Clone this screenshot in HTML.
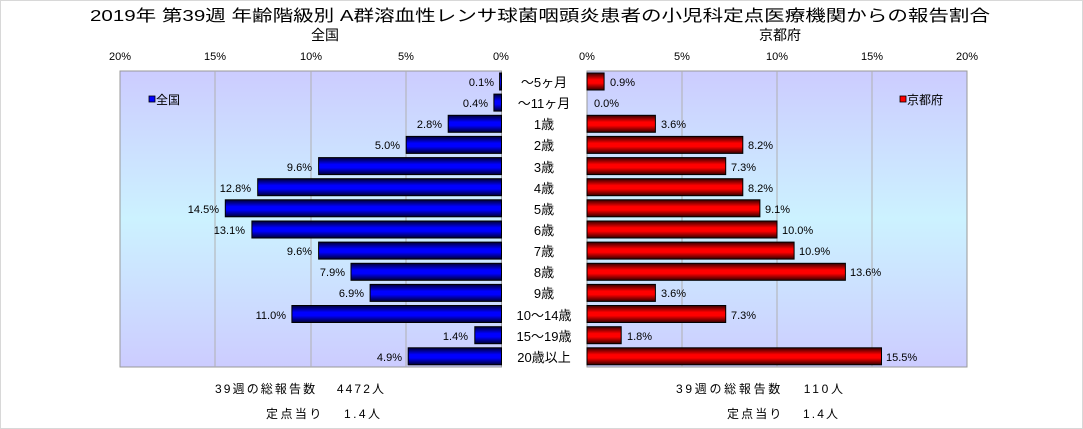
<!DOCTYPE html>
<html><head><meta charset="utf-8"><style>
body{margin:0;background:#fff;}
svg{display:block;font-family:"Liberation Sans","Noto Sans CJK JP",sans-serif;}
</style></head><body>
<svg width="1083" height="429" viewBox="0 0 1083 429" xmlns="http://www.w3.org/2000/svg">
<defs>
<linearGradient id="bg" x1="0" y1="0" x2="0" y2="1">
<stop offset="0" stop-color="#ccccff"/><stop offset="0.5" stop-color="#ccf2ff"/><stop offset="1" stop-color="#ccccff"/>
</linearGradient>
<linearGradient id="gb" x1="0" y1="0" x2="0" y2="1">
<stop offset="0" stop-color="#000033"/><stop offset="0.4" stop-color="#0000ff"/><stop offset="0.6" stop-color="#0000ff"/><stop offset="1" stop-color="#000033"/>
</linearGradient>
<linearGradient id="gr" x1="0" y1="0" x2="0" y2="1">
<stop offset="0" stop-color="#330000"/><stop offset="0.4" stop-color="#ff0000"/><stop offset="0.6" stop-color="#ff0000"/><stop offset="1" stop-color="#330000"/>
</linearGradient>
</defs>
<rect x="0.5" y="0.5" width="1082" height="428" fill="#fff" stroke="#d8d8d8"/>
<text x="90" y="21" font-size="16" textLength="900" lengthAdjust="spacingAndGlyphs">2019年 第39週 年齢階級別 A群溶血性レンサ球菌咽頭炎患者の小児科定点医療機関からの報告割合</text>
<text x="325" y="40" font-size="14" text-anchor="middle">全国</text>
<text x="780" y="40" font-size="14" text-anchor="middle">京都府</text>
<g font-size="11" text-anchor="middle">
<text x="120" y="60">20%</text><text x="215" y="60">15%</text><text x="311" y="60">10%</text><text x="406" y="60">5%</text><text x="501" y="60">0%</text>
<text x="587" y="60">0%</text><text x="682" y="60">5%</text><text x="777" y="60">10%</text><text x="872" y="60">15%</text><text x="967" y="60">20%</text>
</g>
<rect x="120" y="71" width="381.5" height="296" fill="url(#bg)" stroke="#999"/>
<rect x="587" y="71" width="380" height="296" fill="url(#bg)" stroke="#999"/>
<g stroke="#b0b0b0">
<line x1="215" y1="71" x2="215" y2="367"/><line x1="311" y1="71" x2="311" y2="367"/><line x1="406" y1="71" x2="406" y2="367"/>
<line x1="682" y1="71" x2="682" y2="367"/><line x1="777" y1="71" x2="777" y2="367"/><line x1="872" y1="71" x2="872" y2="367"/>
</g>
<g fill="url(#gb)" stroke="#000">
<rect x="499.6" y="73" width="1.9" height="17"/>
<rect x="493.9" y="94.1" width="7.6" height="17"/>
<rect x="448.2" y="115.3" width="53.3" height="17"/>
<rect x="406.2" y="136.4" width="95.3" height="17"/>
<rect x="318.6" y="157.6" width="182.9" height="17"/>
<rect x="257.7" y="178.7" width="243.8" height="17"/>
<rect x="225.3" y="199.8" width="276.2" height="17"/>
<rect x="251.9" y="221" width="249.6" height="17"/>
<rect x="318.6" y="242.1" width="182.9" height="17"/>
<rect x="351" y="263.3" width="150.5" height="17"/>
<rect x="370.1" y="284.4" width="131.4" height="17"/>
<rect x="291.9" y="305.5" width="209.6" height="17"/>
<rect x="474.8" y="326.7" width="26.7" height="17"/>
<rect x="408.2" y="347.8" width="93.3" height="17"/>
</g>
<g fill="url(#gr)" stroke="#000">
<rect x="587" y="73" width="17.1" height="17"/>
<rect x="587" y="115.3" width="68.4" height="17"/>
<rect x="587" y="136.4" width="155.8" height="17"/>
<rect x="587" y="157.6" width="138.7" height="17"/>
<rect x="587" y="178.7" width="155.8" height="17"/>
<rect x="587" y="199.8" width="172.9" height="17"/>
<rect x="587" y="221" width="190" height="17"/>
<rect x="587" y="242.1" width="207.1" height="17"/>
<rect x="587" y="263.3" width="258.4" height="17"/>
<rect x="587" y="284.4" width="68.4" height="17"/>
<rect x="587" y="305.5" width="138.7" height="17"/>
<rect x="587" y="326.7" width="34.2" height="17"/>
<rect x="587" y="347.8" width="294.5" height="17"/>
</g>
<g font-size="11" text-anchor="end">
<text x="494" y="86">0.1%</text>
<text x="488" y="107">0.4%</text>
<text x="442" y="128">2.8%</text>
<text x="400" y="149">5.0%</text>
<text x="312" y="171">9.6%</text>
<text x="251" y="192">12.8%</text>
<text x="219" y="213">14.5%</text>
<text x="245" y="234">13.1%</text>
<text x="312" y="255">9.6%</text>
<text x="345" y="276">7.9%</text>
<text x="364" y="297">6.9%</text>
<text x="286" y="319">11.0%</text>
<text x="468" y="340">1.4%</text>
<text x="402" y="361">4.9%</text>
</g>
<g font-size="11">
<text x="610" y="86">0.9%</text>
<text x="594" y="107">0.0%</text>
<text x="661" y="128">3.6%</text>
<text x="748" y="149">8.2%</text>
<text x="731" y="171">7.3%</text>
<text x="748" y="192">8.2%</text>
<text x="765" y="213">9.1%</text>
<text x="782" y="234">10.0%</text>
<text x="799" y="255">10.9%</text>
<text x="850" y="276">13.6%</text>
<text x="661" y="297">3.6%</text>
<text x="731" y="319">7.3%</text>
<text x="627" y="340">1.8%</text>
<text x="886" y="361">15.5%</text>
</g>
<g font-size="13" text-anchor="middle">
<text x="544" y="87">～5ヶ月</text>
<text x="544" y="108">～11ヶ月</text>
<text x="544" y="129">1歳</text>
<text x="544" y="150">2歳</text>
<text x="544" y="172">3歳</text>
<text x="544" y="193">4歳</text>
<text x="544" y="214">5歳</text>
<text x="544" y="235">6歳</text>
<text x="544" y="256">7歳</text>
<text x="544" y="277">8歳</text>
<text x="544" y="298">9歳</text>
<text x="544" y="320">10～14歳</text>
<text x="544" y="341">15～19歳</text>
<text x="544" y="362">20歳以上</text>
</g>
<rect x="149" y="96" width="6" height="6" fill="#0000ff" stroke="#000" stroke-width="0.8"/>
<text x="156" y="104" font-size="12">全国</text>
<rect x="900" y="96" width="6" height="6" fill="#ff0000" stroke="#000" stroke-width="0.8"/>
<text x="907" y="104" font-size="12">京都府</text>
<g font-size="12">
<text x="215" y="393" textLength="169">39週の総報告数　 4472人</text>
<text x="266" y="418" textLength="114">定点当り　 1.4人</text>
<text x="676" y="393" textLength="167">39週の総報告数　 110人</text>
<text x="727" y="418" textLength="111">定点当り　 1.4人</text>
</g>
</svg>
</body></html>
